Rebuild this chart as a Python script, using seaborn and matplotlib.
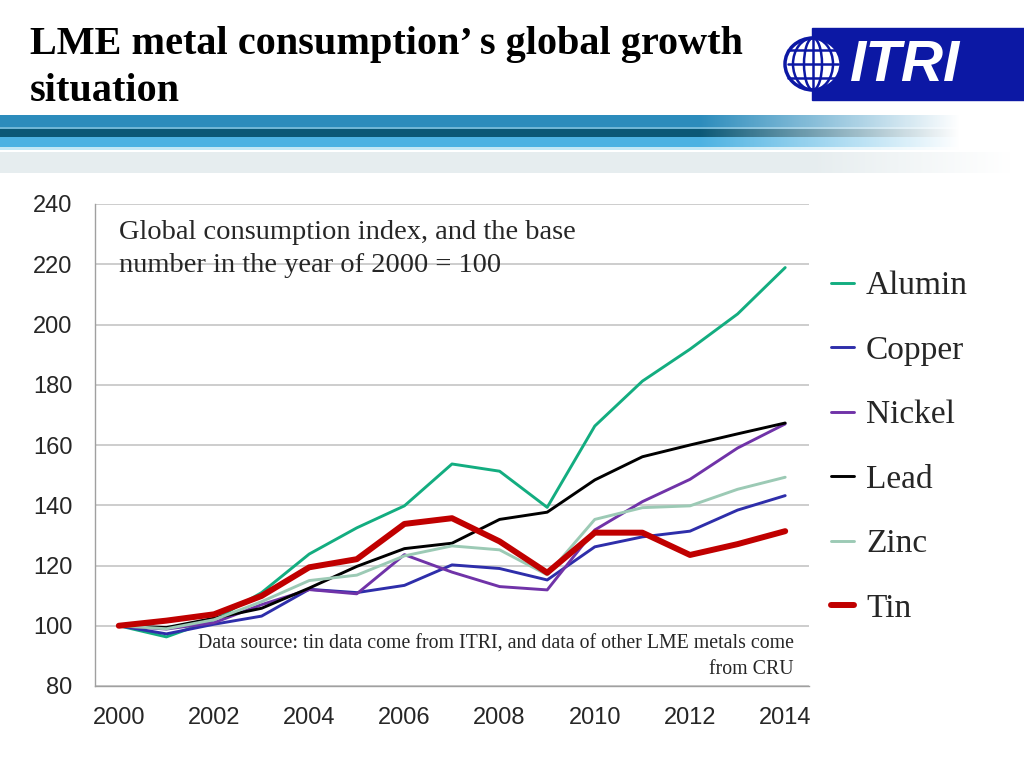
import numpy as np
import matplotlib
matplotlib.use("Agg")
import matplotlib.pyplot as plt
import matplotlib.patches as mpatches
import matplotlib.colors as mcolors
import seaborn as sns

years = list(range(2000, 2015))
metals = ["Alumin", "Copper", "Nickel", "Lead", "Zinc", "Tin"]
alumin = [100, 96.3, 102, 111, 123.8, 132.5, 139.8, 153.7, 151.3, 139.3, 166.3, 181.2, 191.8, 203.5, 218.9]
copper = [100, 97.3, 100.5, 103.2, 112.1, 111, 113.4, 120.2, 119, 115.2, 126.2, 129.5, 131.4, 138.4, 143.2]
nickel = [100, 98.9, 101, 107, 112, 110.6, 123.6, 117.8, 113, 111.9, 131.8, 141.2, 148.6, 159, 167]
lead = [100, 99.4, 102.5, 105.8, 112.5, 119.7, 125.6, 127.4, 135.3, 137.7, 148.4, 156.1, 160, 163.7, 167.3]
zinc = [100, 99, 102, 108, 115, 116.8, 123.2, 126.5, 125.2, 116.9, 135.3, 139.2, 139.8, 145.3, 149.3]
tin = [100, 101.7, 103.8, 109.9, 119.4, 122.1, 133.8, 135.7, 128, 117.6, 130.9, 130.9, 123.5, 127.1, 131.4]
series = [alumin, copper, nickel, lead, zinc, tin]

colors = ["#13ad80", "#2e2eaa", "#7033a8", "#000000", "#9ccab5", "#c00000"]
widths = [2.1, 2.1, 2.1, 2.1, 2.1, 4.3]

note = "Global consumption index, and the base\nnumber in the year of 2000 = 100"
source = "Data source: tin data come from ITRI, and data of other LME metals come\nfrom CRU"
title_lines = ["LME metal consumption’ s global growth", "situation"]

sns.set_style("white")
plt.rcParams["font.family"] = ["Liberation Sans", "DejaVu Sans"]

W, H = 1024, 768
fig = plt.figure(figsize=(W / 100, H / 100), dpi=100)

# header stripes
band = fig.add_axes([0, 1 - 175 / H, 1, 65 / H])
img = np.zeros((65, W, 4))
rows = [(115, 127, "#2c8cbc"), (127, 129, "#6fb6d6"), (129, 137, "#0b5876"),
        (137, 147, "#4cb2e2"), (147, 150, "#c4e8f5")]
xs = np.arange(W)
fade = np.clip((960 - xs) / 260, 0, 1)
for y0, y1, c in rows:
    img[y0 - 110:y1 - 110, :, :3] = mcolors.to_rgb(c)
    img[y0 - 110:y1 - 110, :, 3] = fade
fade2 = np.clip((1010 - xs) / 200, 0, 1)
img[152 - 110:173 - 110, :, :3] = mcolors.to_rgb("#e6edef")
img[152 - 110:173 - 110, :, 3] = fade2
band.imshow(img, aspect="auto", extent=(0, W, 175, 110), interpolation="bilinear")
band.set_axis_off()

# logo
logo = fig.add_axes([780 / W, 1 - 102 / H, 244 / W, 76 / H])
logo.set_xlim(780, 1024)
logo.set_ylim(102, 26)
logo.set_axis_off()
logo.add_patch(mpatches.Rectangle((812, 28), 212, 72, color="#0c18a4"))
logo.add_patch(mpatches.Ellipse((813, 64), 56, 52, facecolor="white", edgecolor="#0c18a4", lw=2.5))
for w in (40, 18):
    logo.add_patch(mpatches.Ellipse((813, 64), w, 52, facecolor="none", edgecolor="#0c18a4", lw=1.8))
logo.plot([813, 813], [38, 90], color="#0c18a4", lw=1.8)
for yy in (50, 64, 78):
    logo.plot([788, 838], [yy, yy], color="#0c18a4", lw=1.8)
logo.text(905, 66, "ITRI", color="white", fontsize=42, fontweight="bold", style="italic",
          ha="center", va="center", family=["Liberation Sans Narrow", "Liberation Sans"])

for line, base in zip(title_lines, (54, 101)):
    fig.text(30 / W, 1 - base / H, line, fontsize=29, fontweight="bold", va="baseline",
             ha="left", color="black", family=["Liberation Serif", "DejaVu Serif"])

# chart
ax = fig.add_axes([95 / W, 1 - 686 / H, 714 / W, 482 / H])
for name, vals, c, lw in zip(metals, series, colors, widths):
    sns.lineplot(x=years, y=vals, color=c, linewidth=lw, ax=ax, label=name, zorder=3)

ax.set_xlim(1999.5, 2014.5)
ax.set_ylim(80, 240)
ax.set_yticks(range(80, 241, 20))
ax.set_xticks(np.arange(1999.5, 2015, 1))
ax.set_xticklabels([])
ax.set_xticks(range(2000, 2015, 2), minor=True)
ax.set_xticklabels([str(y) for y in range(2000, 2015, 2)], minor=True)
ax.tick_params(axis="x", which="major", length=4.3, color="#999999", width=1)
ax.tick_params(axis="x", which="minor", length=0, pad=15, labelsize=17)
ax.tick_params(axis="y", length=4.3, color="#999999", width=1, pad=12, labelsize=17)
ax.yaxis.grid(True, color="#c0c0c0", linewidth=1.1)
ax.set_axisbelow(True)
for s in ("top", "right"):
    ax.spines[s].set_visible(False)
for s in ("left", "bottom"):
    ax.spines[s].set_color("#a0a0a0")
    ax.spines[s].set_linewidth(1)
ax.set_xlabel("")
ax.set_ylabel("")

fig.text(119 / W, 1 - 220 / H, note, fontsize=20.5, family=["Liberation Serif"],
         va="top", ha="left", linespacing=1.4)
fig.text(794 / W, 1 - 635 / H, source, fontsize=14.3, family=["Liberation Serif"],
         va="top", ha="right", multialignment="right", linespacing=1.4)

ax.get_legend().remove()
handles, labels = ax.get_legend_handles_labels()
fig.legend(handles, labels, loc="upper left", bbox_to_anchor=(831 / W, 1 - 271 / H),
           frameon=False, borderpad=0, borderaxespad=0, handlelength=0.7, handletextpad=0.35,
           labelspacing=1.02, prop={"family": "Liberation Serif", "size": 24})

fig.savefig("out.png", dpi=100)
